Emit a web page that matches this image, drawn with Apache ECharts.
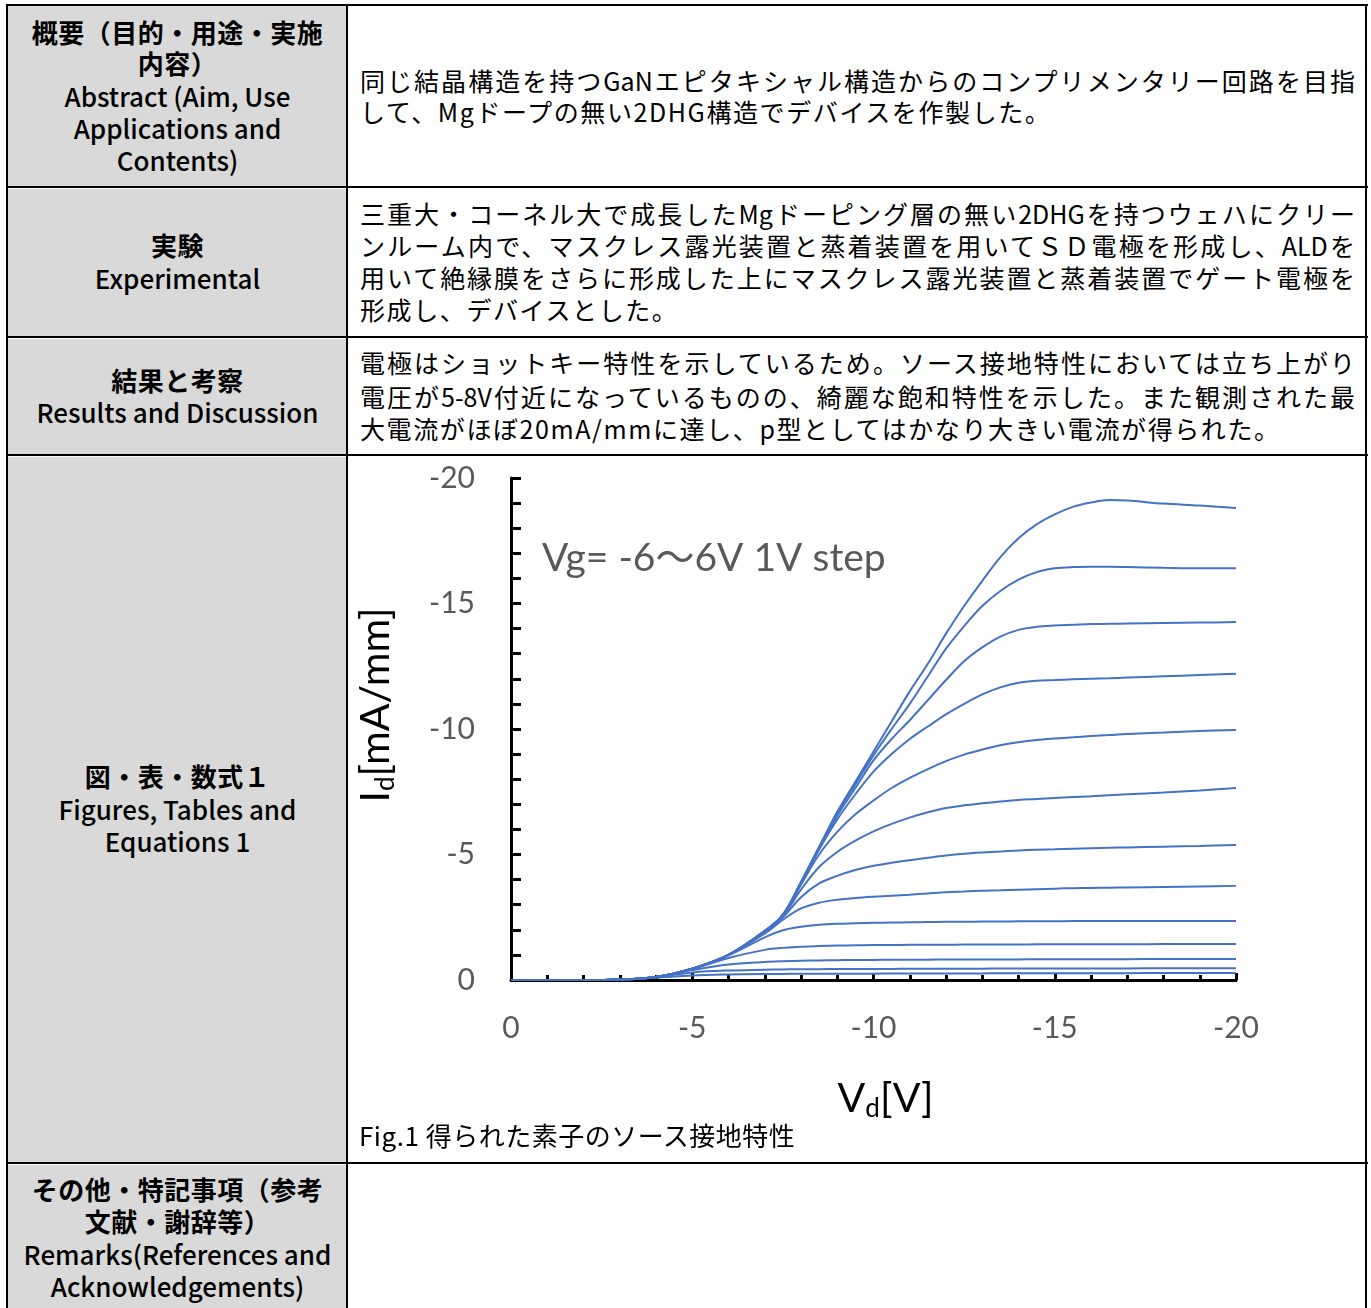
<!DOCTYPE html>
<html><head><meta charset="utf-8">
<script src="https://cdn.jsdelivr.net/npm/echarts@6/dist/echarts.min.js"></script>
<style>
html,body{margin:0;padding:0;background:#fff;}
body{width:1371px;height:1308px;position:relative;overflow:hidden;font-family:"Noto Sans CJK JP",sans-serif;color:#000;}
.hl{position:absolute;background:#000;height:2px;left:6px;width:1362px;}
.vl{position:absolute;background:#000;width:2px;top:4px;height:1310px;}
.bg{position:absolute;background:#d9d9d9;left:8px;width:339px;}
.h{position:absolute;left:8px;width:339px;text-align:center;font-size:26px;line-height:32px;white-space:nowrap;}
.j{font-weight:700;letter-spacing:0.5px;}
.e{font-weight:500;}
.t{position:absolute;left:360px;font-size:25px;line-height:32px;white-space:nowrap;letter-spacing:1.6px;}
.full{width:995px;text-align:justify;text-align-last:justify;letter-spacing:0;}
.cap{letter-spacing:0.5px;font-size:26px;}
#chart{position:absolute;left:349px;top:457px;width:1016px;height:705px;}
</style>
</head><body>
<div class="bg" style="top:6px;height:181px"></div>
<div class="bg" style="top:189px;height:148px"></div>
<div class="bg" style="top:339px;height:116px"></div>
<div class="bg" style="top:457px;height:706px"></div>
<div class="bg" style="top:1165px;height:150px"></div>

<div class="hl" style="top:4px"></div>
<div class="hl" style="top:186px"></div>
<div class="hl" style="top:336px"></div>
<div class="hl" style="top:454px"></div>
<div class="hl" style="top:1162px"></div>
<div class="vl" style="left:6px"></div>
<div class="vl" style="left:346px"></div>
<div class="vl" style="left:1365px"></div>

<div class="h j" style="top:16px">概要（目的・用途・実施</div>
<div class="h j" style="top:47px">内容）</div>
<div class="h e" style="top:80px">Abstract (Aim, Use</div>
<div class="h e" style="top:112px">Applications and</div>
<div class="h e" style="top:144px">Contents)</div>

<div class="h j" style="top:229px">実験</div>
<div class="h e" style="top:262px">Experimental</div>

<div class="h j" style="top:364px">結果と考察</div>
<div class="h e" style="top:396px">Results and Discussion</div>

<div class="h j" style="top:760px">図・表・数式１</div>
<div class="h e" style="top:793px">Figures, Tables and</div>
<div class="h e" style="top:825px">Equations 1</div>

<div class="h j" style="top:1173px">その他・特記事項（参考</div>
<div class="h j" style="top:1205px">文献・謝辞等）</div>
<div class="h e" style="top:1238px">Remarks(References and</div>
<div class="h e" style="top:1270px">Acknowledgements)</div>

<div class="t full" style="top:64px">同じ結晶構造を持つGaNエピタキシャル構造からのコンプリメンタリー回路を目指</div>
<div class="t" style="top:95px">して、Mgドープの無い2DHG構造でデバイスを作製した。</div>

<div class="t full" style="top:197px">三重大・コーネル大で成長したMgドーピング層の無い2DHGを持つウェハにクリー</div>
<div class="t full" style="top:229px">ンルーム内で、マスクレス露光装置と蒸着装置を用いてＳＤ電極を形成し、ALDを</div>
<div class="t full" style="top:261px">用いて絶縁膜をさらに形成した上にマスクレス露光装置と蒸着装置でゲート電極を</div>
<div class="t" style="top:293px">形成し、デバイスとした。</div>

<div class="t full" style="top:346px">電極はショットキー特性を示しているため。ソース接地特性においては立ち上がり</div>
<div class="t full" style="top:380px">電圧が5-8V付近になっているものの、綺麗な飽和特性を示した。また観測された最</div>
<div class="t" style="top:412px">大電流がほぼ20mA/mmに達し、p型としてはかなり大きい電流が得られた。</div>

<div id="chart"></div>
<div class="t cap" style="top:1119px;left:359px">Fig.1 得られた素子のソース接地特性</div>

<script>
const vd = [0,-1,-2,-3,-4,-5,-6,-7,-7.5,-8,-8.5,-9,-9.5,-10,-10.5,-11,-11.5,-12,-12.5,-13,-13.5,-14,-14.5,-15,-15.5,-16,-16.5,-17,-18,-19,-20];
const vgLabels = ['Vg=-6V','Vg=-5V','Vg=-4V','Vg=-3V','Vg=-2V','Vg=-1V','Vg=0V','Vg=1V','Vg=2V','Vg=3V','Vg=4V','Vg=5V','Vg=6V'];
const idVgM6 = [0,0,0,-0.02,-0.12,-0.45,-1.0,-1.95,-2.6,-3.9,-5.3,-6.7,-7.9,-9.1,-10.3,-11.5,-12.6,-13.8,-14.9,-15.9,-16.85,-17.6,-18.15,-18.55,-18.85,-19.02,-19.12,-19.1,-18.98,-18.9,-18.8];
const idVgM5 = [0,0,0,-0.02,-0.12,-0.45,-1.0,-1.95,-2.6,-3.9,-5.3,-6.65,-7.8,-8.95,-10.0,-11.0,-12.1,-13.2,-14.1,-14.9,-15.5,-15.95,-16.25,-16.4,-16.45,-16.46,-16.46,-16.45,-16.42,-16.4,-16.4];
const idVgM4 = [0,0,0,-0.02,-0.12,-0.45,-1.0,-1.95,-2.6,-3.9,-5.25,-6.55,-7.65,-8.75,-9.6,-10.35,-11.15,-11.95,-12.7,-13.25,-13.68,-13.95,-14.07,-14.12,-14.15,-14.18,-14.19,-14.2,-14.22,-14.24,-14.26];
const idVgM3 = [0,0,0,-0.02,-0.12,-0.45,-1.0,-1.95,-2.6,-3.85,-5.2,-6.4,-7.4,-8.3,-9.0,-9.6,-10.1,-10.58,-11.0,-11.38,-11.66,-11.84,-11.92,-11.95,-11.98,-12.0,-12.02,-12.05,-12.1,-12.15,-12.2];
const idVgM2 = [0,0,0,-0.02,-0.12,-0.45,-1.0,-1.95,-2.6,-3.8,-5.0,-5.9,-6.6,-7.15,-7.65,-8.05,-8.4,-8.72,-8.98,-9.18,-9.35,-9.47,-9.56,-9.62,-9.67,-9.72,-9.76,-9.8,-9.86,-9.92,-9.96];
const idVgM1 = [0,0,0,-0.02,-0.12,-0.45,-1.0,-1.92,-2.55,-3.6,-4.5,-5.1,-5.55,-5.92,-6.22,-6.47,-6.68,-6.85,-6.96,-7.04,-7.11,-7.17,-7.21,-7.25,-7.29,-7.32,-7.36,-7.4,-7.47,-7.55,-7.65];
const idVg0 = [0,0,0,-0.02,-0.12,-0.45,-1.0,-1.9,-2.5,-3.3,-3.85,-4.15,-4.38,-4.55,-4.67,-4.77,-4.87,-4.96,-5.03,-5.08,-5.12,-5.16,-5.19,-5.21,-5.23,-5.25,-5.27,-5.28,-5.31,-5.34,-5.38];
const idVgP1 = [0,0,0,-0.02,-0.12,-0.45,-1.0,-1.85,-2.4,-2.85,-3.08,-3.2,-3.27,-3.32,-3.36,-3.4,-3.45,-3.5,-3.53,-3.56,-3.58,-3.6,-3.62,-3.64,-3.66,-3.67,-3.68,-3.69,-3.71,-3.73,-3.75];
const idVgP2 = [0,0,0,-0.02,-0.12,-0.45,-0.98,-1.7,-1.98,-2.12,-2.2,-2.24,-2.26,-2.28,-2.29,-2.3,-2.31,-2.32,-2.32,-2.33,-2.33,-2.34,-2.34,-2.34,-2.35,-2.35,-2.35,-2.35,-2.35,-2.35,-2.35];
const idVgP3 = [0,0,0,-0.02,-0.12,-0.44,-0.88,-1.2,-1.28,-1.32,-1.35,-1.37,-1.38,-1.39,-1.39,-1.4,-1.4,-1.4,-1.41,-1.41,-1.41,-1.41,-1.42,-1.42,-1.42,-1.42,-1.42,-1.42,-1.43,-1.43,-1.43];
const idVgP4 = [0,0,0,-0.02,-0.12,-0.4,-0.62,-0.72,-0.75,-0.77,-0.78,-0.79,-0.8,-0.8,-0.81,-0.81,-0.81,-0.82,-0.82,-0.82,-0.82,-0.82,-0.83,-0.83,-0.83,-0.83,-0.83,-0.83,-0.84,-0.84,-0.84];
const idVgP5 = [0,0,0,-0.02,-0.11,-0.3,-0.38,-0.41,-0.42,-0.43,-0.43,-0.44,-0.44,-0.44,-0.44,-0.45,-0.45,-0.45,-0.45,-0.45,-0.46,-0.46,-0.46,-0.46,-0.46,-0.46,-0.46,-0.46,-0.47,-0.47,-0.47];
const idVgP6 = [0,0,0,-0.02,-0.09,-0.18,-0.22,-0.24,-0.24,-0.25,-0.25,-0.25,-0.25,-0.25,-0.26,-0.26,-0.26,-0.26,-0.26,-0.26,-0.27,-0.27,-0.27,-0.27,-0.27,-0.27,-0.27,-0.27,-0.28,-0.28,-0.28];
const curves = [idVgM6,idVgM5,idVgM4,idVgM3,idVgM2,idVgM1,idVg0,idVgP1,idVgP2,idVgP3,idVgP4,idVgP5,idVgP6];
const annotation = 'Vg= -6～6V 1V step';

const chart = echarts.init(document.getElementById('chart'));
const gray = '#595959';
const nameRich = {
  m:{fontFamily:'Lato',fontSize:41,color:'#000',lineHeight:46},
  s:{fontFamily:'Lato',fontSize:26,color:'#000',verticalAlign:'bottom',lineHeight:26}
};
chart.setOption({
  animation:false,
  grid:{left:162,right:129,top:21,bottom:182,outerBoundsMode:'none',containLabel:false},
  xAxis:{
    type:'value',min:-20,max:0,interval:5,inverse:true,
    name:'{m|V}{s|d}{m|[V]}',nameLocation:'middle',nameGap:96,
    nameTextStyle:{padding:[0,0,0,24],rich:nameRich},
    axisLine:{onZero:false,lineStyle:{color:'#000',width:3}},
    axisTick:{inside:true,length:7,lineStyle:{color:'#000',width:3}},
    minorTick:{show:true,splitNumber:5,length:5,lineStyle:{color:'#000',width:3}},
    splitLine:{show:false},
    axisLabel:{margin:33,fontFamily:'Lato',fontSize:30,color:gray}
  },
  yAxis:{
    type:'value',min:-20,max:0,interval:5,inverse:true,
    name:'{m|I}{s|d}{m|[mA/mm]}',nameLocation:'middle',nameGap:112,
    nameTextStyle:{padding:[0,0,0,48],rich:nameRich},
    axisLine:{lineStyle:{color:'#000',width:3}},
    axisTick:{inside:true,length:10,lineStyle:{color:'#000',width:3}},
    minorTick:{show:true,splitNumber:5,length:10,lineStyle:{color:'#000',width:3}},
    splitLine:{show:false},
    axisLabel:{margin:36,fontFamily:'Lato',fontSize:30,color:gray}
  },
  graphic:[{type:'text',left:193,top:82,style:{text:annotation,fontFamily:'Lato, "Noto Sans CJK JP"',fontSize:39,fill:gray}}],
  series: curves.map((c,i)=>({
    type:'line',name:vgLabels[i],data:vd.map((v,k)=>[v,c[k]]),
    showSymbol:false,smooth:0.35,z:3,
    lineStyle:{color:'#4472C4',width:2}
  }))
});
</script>
</body></html>
